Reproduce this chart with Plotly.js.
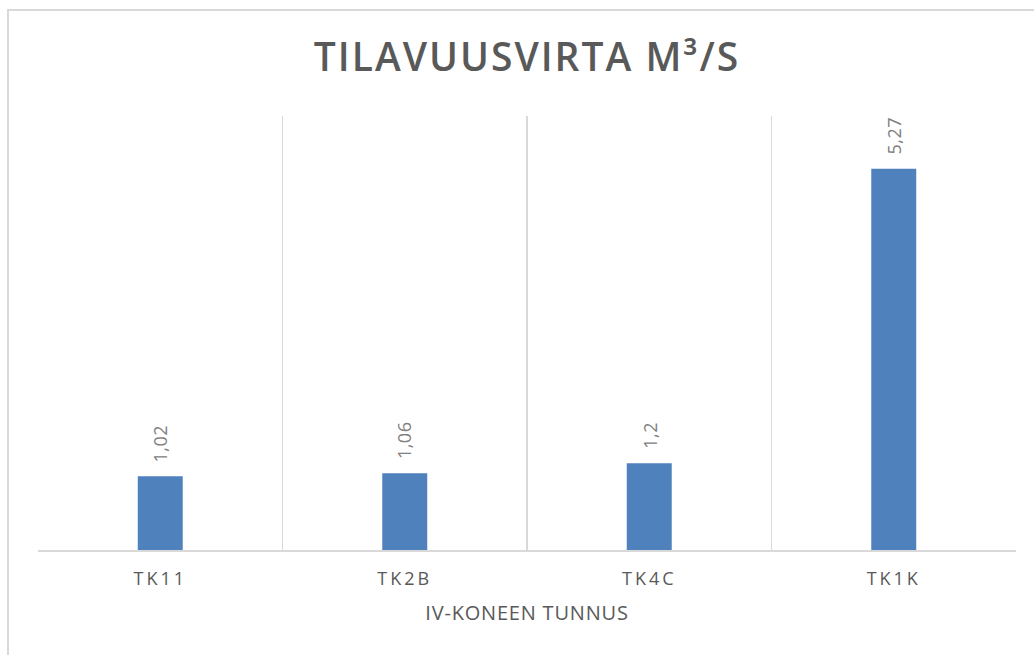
<!DOCTYPE html>
<html>
<head>
<meta charset="utf-8">
<script src="https://cdn.plot.ly/plotly-3.0.1.min.js"></script>
<style>
  html, body { margin: 0; padding: 0; background: #ffffff; overflow: hidden; }
  #frame { position: absolute; left: 7px; top: 9px; width: 1060px; height: 680px; border: 2px solid #d9d9d9; box-sizing: border-box; }
  #chart { position: absolute; left: 0; top: 0; width: 1034px; height: 655px; }
  #chart .gtitle { letter-spacing: 2px; }
  #chart .xtick text { letter-spacing: 3px; }
  #chart .xtitle { letter-spacing: 0.8px; }
  #chart .annotation-text { letter-spacing: 0.5px; }
</style>
</head>
<body>
<div id="frame"></div>
<div id="chart"></div>
<script>
const categories = ["TK11", "TK2B", "TK4C", "TK1K"];
const values = [1.02, 1.06, 1.2, 5.27];
const labels = values.map(v => String(v).replace('.', ','));

const trace = {
  type: 'bar',
  x: categories,
  y: values,
  marker: { color: '#4f81bd' },
  hoverinfo: 'none'
};

const annotations = categories.map((c, i) => ({
  x: c, y: values[i], xref: 'x', yref: 'y',
  text: labels[i], showarrow: false, textangle: -90,
  xanchor: 'center', yanchor: 'bottom', yshift: 13,
  font: { family: 'Open Sans, sans-serif', size: 18, color: '#808080' }
}));

const layout = {
  width: 1034, height: 655,
  paper_bgcolor: 'rgba(0,0,0,0)', plot_bgcolor: 'rgba(0,0,0,0)',
  margin: { l: 38, r: 18, t: 116, b: 105, pad: 0 },
  showlegend: false,
  bargap: 0.816,
  title: {
    text: 'TILAVUUSVIRTA M³/S',
    font: { family: 'Open Sans, sans-serif', size: 39, color: '#595959', weight: 600 },
    x: 0.5, xanchor: 'center', xref: 'paper',
    y: 1 - 57 / 655, yanchor: 'middle', yref: 'container'
  },
  xaxis: {
    type: 'category',
    tickson: 'boundaries',
    showgrid: true, gridcolor: '#d9d9d9', gridwidth: 1.5,
    showline: true, linecolor: '#d9d9d9', linewidth: 1.5,
    ticks: '', ticklen: 0,
    ticklabelstandoff: 12,
    tickfont: { family: 'Open Sans, sans-serif', size: 18, color: '#595959' },
    title: {
      text: 'IV-KONEEN TUNNUS', standoff: 17,
      font: { family: 'Open Sans, sans-serif', size: 20, color: '#595959' }
    },
    fixedrange: true
  },
  yaxis: {
    range: [0, 6],
    showgrid: false, zeroline: false, showline: false,
    showticklabels: false, ticks: '', fixedrange: true
  },
  annotations: annotations
};

Plotly.newPlot('chart', [trace], layout, { displayModeBar: false, staticPlot: true });
</script>
</body>
</html>
